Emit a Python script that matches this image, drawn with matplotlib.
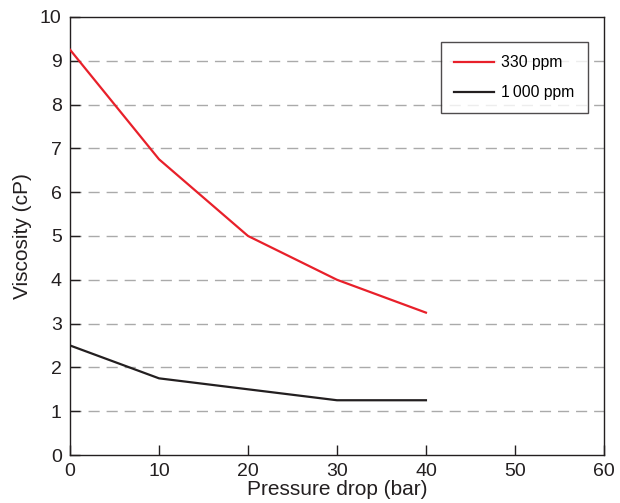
import matplotlib
matplotlib.use("Agg")
import matplotlib.pyplot as plt

plt.rcParams['font.family'] = ['Liberation Sans', 'DejaVu Sans']

pressure = [0, 10, 20, 30, 40]
visc_330 = [9.25, 6.75, 5.0, 4.0, 3.25]
visc_1000 = [2.5, 1.75, 1.5, 1.25, 1.25]
labels = ["330 ppm", "1\u2009000 ppm"]
xticks = [0, 10, 20, 30, 40, 50, 60]
yticks = list(range(0, 11))

fig = plt.figure(figsize=(6.2, 5.03), dpi=100)
ax = fig.add_axes([0.113, 0.0954, 0.861, 0.871])

for y in range(1, 10):
    ax.axhline(y, color='#aaaaaa', lw=1.0, dashes=(8, 5), zorder=1)

ax.plot(pressure, visc_330, color='#e8202a', lw=1.6, label=labels[0], zorder=3)
ax.plot(pressure, visc_1000, color='#231f20', lw=1.6, label=labels[1], zorder=3)

ax.set_xlim(0, 60)
ax.set_ylim(0, 10)
ax.set_xticks(xticks)
ax.set_yticks(yticks)
ax.tick_params(direction='in', length=7, width=1, labelsize=14, colors='#231f20')
ax.tick_params(axis='x', pad=6)
ax.tick_params(axis='y', pad=6)
for s in ax.spines.values():
    s.set_color('#231f20')
    s.set_linewidth(1.0)

ax.set_xlabel("Pressure drop (bar)", fontsize=15, labelpad=0, color='#231f20')
ax.set_ylabel("Viscosity (cP)", fontsize=15, labelpad=6, color='#231f20')

leg = ax.legend(loc='upper left', bbox_to_anchor=(0.695, 0.943), fontsize=11.3,
                frameon=True, fancybox=False, handlelength=2.55, handletextpad=0.45,
                borderpad=0.85, labelspacing=0.95, borderaxespad=0)
leg.get_frame().set_edgecolor('#231f20')
leg.get_frame().set_linewidth(1.0)

fig.savefig("out.png", dpi=100)
